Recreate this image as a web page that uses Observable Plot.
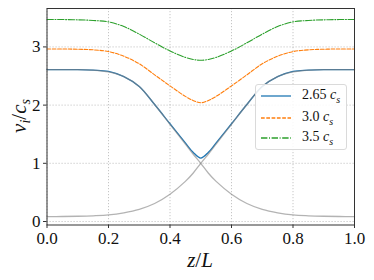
<!DOCTYPE html>
<html>
<head>
<meta charset="utf-8">
<script src="https://cdn.jsdelivr.net/npm/d3@7"></script>
<script src="https://cdn.jsdelivr.net/npm/@observablehq/plot@0.6"></script>
<style>
  body { margin: 0; background: #fff; }
  #wrap { position: relative; width: 374px; height: 280px; }
  #legend { position: absolute; left: 255px; top: 84px; width: 90px; height: 64px;
    border: 1px solid #dadada; border-radius: 3px; background: rgba(255,255,255,0.85);
    font-family: "Liberation Serif", serif; font-size: 14px; color: #111; }
  .row { position: absolute; left: 0; height: 20px; width: 90px; }
  .row svg { position: absolute; left: 4px; top: 0; }
  .row span { position: absolute; left: 46px; top: 1px; white-space: nowrap; }
</style>
</head>
<body>
<div id="wrap"></div>
<script>
// z/L positions
const z = [0, 0.05, 0.1, 0.15, 0.2, 0.25, 0.3, 0.35, 0.4, 0.45, 0.475, 0.5,
           0.525, 0.55, 0.6, 0.65, 0.7, 0.75, 0.8, 0.85, 0.9, 0.95, 1];
// v_i / c_s for each case
const v265 = [2.61, 2.61, 2.61, 2.60, 2.58, 2.49, 2.32, 2.01, 1.68, 1.35, 1.19, 1.09,
              1.19, 1.35, 1.68, 2.01, 2.32, 2.49, 2.58, 2.60, 2.61, 2.61, 2.61];
const v30  = [2.965, 2.965, 2.96, 2.95, 2.92, 2.84, 2.71, 2.52, 2.33, 2.15, 2.08, 2.04,
              2.08, 2.15, 2.33, 2.52, 2.71, 2.84, 2.92, 2.95, 2.96, 2.965, 2.965];
const v35  = [3.47, 3.47, 3.465, 3.455, 3.43, 3.35, 3.22, 3.07, 2.93, 2.82, 2.785, 2.77,
              2.785, 2.82, 2.93, 3.07, 3.22, 3.35, 3.43, 3.455, 3.465, 3.47, 3.47];
// grey reference curves
const greyRise = [0.085, 0.086, 0.09, 0.098, 0.113, 0.15, 0.21, 0.31, 0.47, 0.69, 0.83, 1.0,
                  1.16, 1.33, 1.67, 2.01, 2.32, 2.49, 2.57, 2.60, 2.61, 2.61, 2.61];
const greyFall = [2.61, 2.61, 2.61, 2.60, 2.57, 2.49, 2.32, 2.01, 1.67, 1.33, 1.16, 1.0,
                  0.83, 0.69, 0.47, 0.31, 0.21, 0.15, 0.113, 0.098, 0.09, 0.086, 0.085];

const xTicks = [0, 0.2, 0.4, 0.6, 0.8, 1.0];
const yTicks = [0, 1, 2, 3];
const legendLabels = ["2.65", "3.0", "3.5"];
const legendColors = ["#1f77b4", "#ff7f0e", "#2ca02c"];
const legendDash = ["none", "3.7,1.6", "6.4,1.6,1,1.6"];

const font = "Liberation Serif, serif";
const lineOpts = () => ({x: (d, i) => z[i], y: d => d, curve: "catmull-rom"});

const chart = Plot.plot({
  width: 374,
  height: 280,
  marginLeft: 46.5,
  marginRight: 20,
  marginTop: 8,
  marginBottom: 55.5,
  style: {fontFamily: font, fontSize: "17px", color: "#111", background: "#fff"},
  x: {domain: [0, 1], label: null},
  y: {domain: [-0.06, 3.66], label: null},
  marks: [
    Plot.gridX(xTicks, {stroke: "#b8b8b8", strokeOpacity: 1, strokeWidth: 0.8, strokeDasharray: "1.2,1.8"}),
    Plot.gridY(yTicks, {stroke: "#b8b8b8", strokeOpacity: 1, strokeWidth: 0.8, strokeDasharray: "1.2,1.8"}),
    Plot.line(v265, {...lineOpts(), stroke: legendColors[0], strokeWidth: 1.3}),
    Plot.line(greyRise, {...lineOpts(), stroke: "#808080", strokeOpacity: 0.6, strokeWidth: 1.3}),
    Plot.line(greyFall, {...lineOpts(), stroke: "#808080", strokeOpacity: 0.6, strokeWidth: 1.3}),
    Plot.line(v30, {...lineOpts(), stroke: legendColors[1], strokeWidth: 1.1, strokeDasharray: legendDash[1]}),
    Plot.line(v35, {...lineOpts(), stroke: legendColors[2], strokeWidth: 1.1, strokeDasharray: legendDash[2]}),
    Plot.axisX(xTicks, {tickFormat: d3.format(".1f"), tickSize: 3.5, tickPadding: 3, stroke: "#333", label: null}),
    Plot.axisY(yTicks, {tickFormat: d => String(d), tickSize: 3.5, tickPadding: 3, stroke: "#333", label: null}),
    Plot.frame({stroke: "#333", strokeWidth: 1})
  ]
});

const wrap = document.getElementById("wrap");
wrap.appendChild(chart);

// axis labels with sub/italic styling
const svg = d3.select(chart);
const xl = svg.append("text")
  .attr("x", 200).attr("y", 267)
  .attr("text-anchor", "middle").attr("fill", "#111")
  .attr("font-family", font).attr("font-size", 21);
xl.append("tspan").attr("font-style", "italic").text("z");
xl.append("tspan").text("/");
xl.append("tspan").attr("font-style", "italic").text("L");

const yl = svg.append("text")
  .attr("transform", "translate(26,116) rotate(-90)")
  .attr("text-anchor", "middle").attr("fill", "#111")
  .attr("font-family", font).attr("font-size", 21);
yl.append("tspan").attr("font-style", "italic").text("v");
yl.append("tspan").attr("font-style", "italic").attr("font-size", 14).attr("dy", 4).text("i");
yl.append("tspan").attr("dy", -4).text("/");
yl.append("tspan").attr("font-style", "italic").text("c");
yl.append("tspan").attr("font-style", "italic").attr("font-size", 14).attr("dy", 4).text("s");

// legend
const legend = d3.select(wrap).append("div").attr("id", "legend");
const rowTops = [1, 23, 43];
legendLabels.forEach((lab, i) => {
  const row = legend.append("div").attr("class", "row").style("top", rowTops[i] + "px");
  const s = row.append("svg").attr("width", 32).attr("height", 20);
  s.append("line").attr("x1", 1).attr("x2", 31).attr("y1", 10).attr("y2", 10)
    .attr("stroke", legendColors[i]).attr("stroke-width", 1.3)
    .attr("stroke-dasharray", legendDash[i] === "none" ? null : legendDash[i]);
  const sp = row.append("span");
  sp.append("span").style("position", "static").text(lab + " ");
  sp.append("i").style("position", "static").text("c");
  sp.append("sub").style("font-style", "italic").style("font-size", "10px").text("s");
});
</script>
</body>
</html>
